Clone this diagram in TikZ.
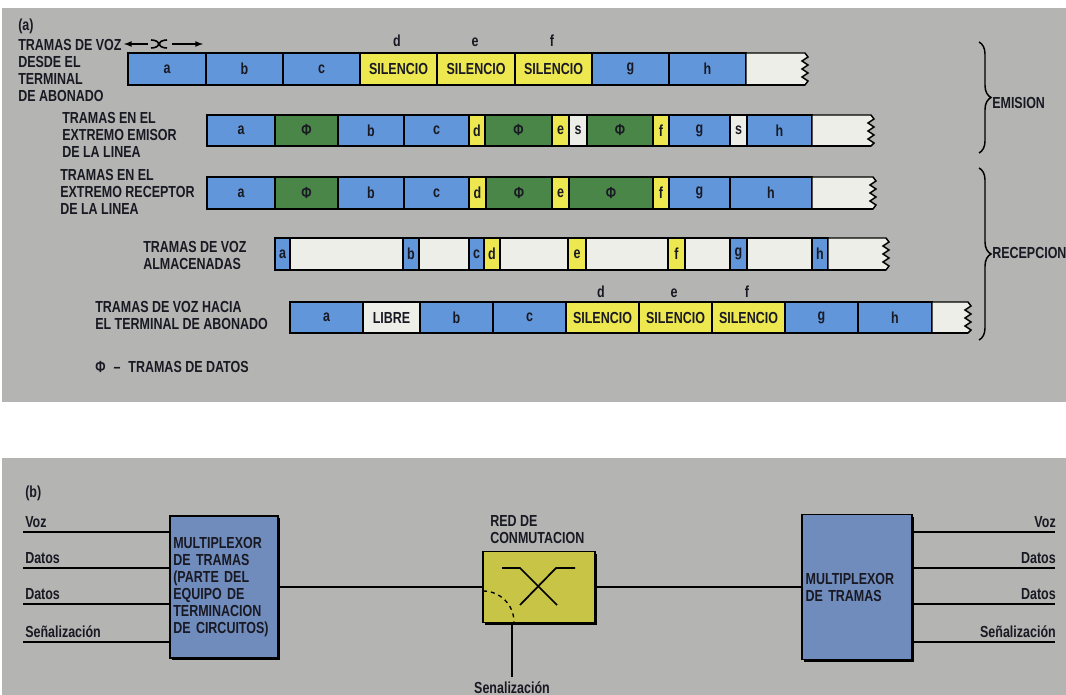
\documentclass[tikz,border=0pt]{standalone}
\usepackage{fontspec}
\setmainfont{Liberation Sans}[FakeStretch=0.78]
\usetikzlibrary{decorations.pathreplacing, math, shadows}
\definecolor{fondo}{RGB}{180,180,178}
\definecolor{azul}{RGB}{98,150,218}
\definecolor{verde}{RGB}{74,134,72}
\definecolor{amar}{RGB}{238,232,80}
\definecolor{blanco}{RGB}{238,238,232}
\definecolor{azulcaja}{RGB}{112,140,188}
\definecolor{oliva}{RGB}{200,196,70}
\definecolor{tinta}{RGB}{25,25,35}

\tikzset{
  txt/.style={font=\bfseries\fontsize{12}{12.75}\selectfont, text=tinta, inner sep=0pt},
  celda/.style={draw=black, line width=1.1pt},
  linea/.style={line width=1.6pt},
  caja/.style={draw=black, line width=0.8pt,
    drop shadow={shadow xshift=1.8pt, shadow yshift=-1.8pt, fill=black, opacity=1}},
}

% name, top, bottom, first x, tail x, end x, cells
\newcommand{\fila}[7]{%
  \foreach \xa/\xb/\col/\txt [count=\i] in {#7}{
    \filldraw[celda, fill=\col] (\xa,#2) rectangle (\xb,#3);
    \node[txt] (#1-\i) at ({(\xa+\xb)/2},{(#2+#3)/2}) {\txt};
  }
  \filldraw[celda, fill=blanco] (#5,#2) -- (#6,#2) -- ++(3,4) -- ++(-6,4) -- ++(6,4)
    -- ++(-6,4) -- ++(6,4) -- ++(-6,4) -- ++(6,4) -- (#6,#3) -- (#5,#3) -- cycle;
  \draw[line width=2pt] (#4,#3) -- (#6,#3);
}

\begin{document}
\begin{tikzpicture}[x=0.75pt, y=-0.75pt]
\useasboundingbox (0,0) rectangle (1066,695);
\fill[white] (0,0) rectangle (1066,695);
\fill[fondo] (2,8) rectangle (1066,402);
\fill[fondo] (2,458) rectangle (1066,695);

%% (a)
\node[txt, anchor=base west] (pa) at (18,31) {(a)};

\fila{f1}{53}{85}{128}{746}{805}{128/206/azul/a, 206/283/azul/b, 283/360/azul/c,
  360/437/amar/SILENCIO, 437/515/amar/SILENCIO, 515/592/amar/SILENCIO,
  592/669/azul/g, 669/746/azul/h}
\fila{f2}{115}{146}{207}{812}{871}{207/275/azul/a, 275/338/verde/Φ, 338/404/azul/b,
  404/469/azul/c, 469/485/amar/d, 485/552/verde/Φ, 552/569/amar/e, 569/587/blanco/s,
  587/653/verde/Φ, 653/669/amar/f, 669/730/azul/g, 730/747/blanco/s, 747/812/azul/h}
\fila{f3}{177}{209}{207}{812}{873}{207/275/azul/a, 275/338/verde/Φ, 338/404/azul/b,
  404/469/azul/c, 469/486/amar/d, 486/552/verde/Φ, 552/569/amar/e, 569/653/verde/Φ,
  653/669/amar/f, 669/730/azul/g, 730/812/azul/h}
\fila{f4}{238}{270}{275}{828}{886}{275/290/azul/a, 290/403/blanco/{}, 403/419/azul/b,
  419/469/blanco/{}, 469/484/azul/c, 484/500/amar/d, 500/568/blanco/{}, 568/586/amar/e,
  586/668/blanco/{}, 668/685/amar/f, 685/730/blanco/{}, 730/747/azul/g,
  747/812/blanco/{}, 812/828/azul/h}
\fila{f5}{302}{333}{290}{932}{968}{290/363/azul/a, 363/420/blanco/LIBRE, 420/493/azul/b,
  493/566/azul/c, 566/639/amar/SILENCIO, 639/712/amar/SILENCIO, 712/785/amar/SILENCIO,
  785/858/azul/g, 858/932/azul/h}

% letters over the silence frames
\foreach \x/\l in {397/d, 475/e, 552/f}
  \node[txt, anchor=base] (s1\l) at (\x,47) {\l};
\foreach \x/\l in {601/d, 674/e, 747/f}
  \node[txt, anchor=base] (s5\l) at (\x,297) {\l};

\node[txt, anchor=north west, align=left] (l1) at (18,39) {TRAMAS DE VOZ\\DESDE EL\\TERMINAL\\DE ABONADO};
\node[txt, anchor=north west, align=left] (l2) at (62,112) {TRAMAS EN EL\\EXTREMO EMISOR\\DE LA LINEA};
\node[txt, anchor=north west, align=left] (l3) at (60,169) {TRAMAS EN EL\\EXTREMO RECEPTOR\\DE LA LINEA};
\node[txt, anchor=north west, align=left] (l4) at (143,241) {TRAMAS DE VOZ\\ALMACENADAS};
\node[txt, anchor=north west, align=left] (l5) at (95,301) {TRAMAS DE VOZ HACIA\\EL TERMINAL DE ABONADO};
\node[txt, anchor=base west] (ley) at (95,372) {Φ\enspace–\enspace TRAMAS DE DATOS};

% frame length
\coordinate (ti) at (124,44);
\coordinate (td) at (203,44);
\draw[-latex, line width=1pt] (148,44) -- (ti);
\draw[-latex, line width=1pt] (172,44) -- (td);
\draw[line width=1.2pt] (151,40) .. controls (161,40) and (161,48) .. (151,48);
\draw[line width=1.2pt] (167,40) .. controls (157,40) and (157,48) .. (167,48);

% braces
\draw[decorate, decoration={brace, amplitude=9pt}, line width=1.1pt] (979,42) -- (979,153);
\node[txt, anchor=west] (emi) at (992,103) {EMISION};
\draw[decorate, decoration={brace, amplitude=9pt}, line width=1.1pt] (979,168) -- (979,340);
\node[txt, anchor=west] (rec) at (992,253) {RECEPCION};

%% (b)
\node[txt, anchor=base west] (pb) at (25,497) {(b)};

\node[caja, fill=azulcaja, txt, align=left, text width=76pt, minimum width=81pt,
  minimum height=106.5pt] (mux1) at (224,587) {MULTIPLEXOR\\DE TRAMAS\\(PARTE DEL\\EQUIPO DE\\TERMINACION\\DE CIRCUITOS)};
\node[caja, fill=oliva, minimum width=84pt, minimum height=53.25pt] (red) at (539,587) {};
\node[caja, fill=azulcaja, txt, align=left, text width=77pt, minimum width=82.5pt,
  minimum height=108.75pt] (mux2) at (857,587) {MULTIPLEXOR\\DE TRAMAS};
\node[txt, anchor=north west, align=left] (redl) at (490,515) {RED DE\\CONMUTACION};

\draw[linea] (mux1) -- (red);
\draw[linea] (red) -- (mux2);

% crossing inside the switching network
\draw[line width=1.3pt] (502,568) -- (520,568) -- (557,605);
\draw[line width=1.3pt] (575,568) -- (556,568) -- (520,605);
\draw[dashed, line width=1pt] (483,591) arc[start angle=270, end angle=360, radius=31];

\coordinate (senal) at (512,677);
\draw[line width=1.1pt] (senal |- red.south) -- (senal);
\node[txt, anchor=base] (lsenal) at (512,693) {Senalización};

\foreach \y/\lab [count=\i] in {532/Voz, 568/Datos, 604/Datos, 642/Señalización}{
  \coordinate (ent\i) at (23,\y);
  \coordinate (sal\i) at (1055,\y);
  \draw[linea] (ent\i) -- (ent\i -| mux1.west);
  \draw[linea] (mux2.east |- sal\i) -- (sal\i);
  \node[txt, anchor=base west] (lent\i) at (25,{\y-5}) {\lab};
  \node[txt, anchor=base east] (lsal\i) at (1056,{\y-5}) {\lab};
}
\end{tikzpicture}
\end{document}
